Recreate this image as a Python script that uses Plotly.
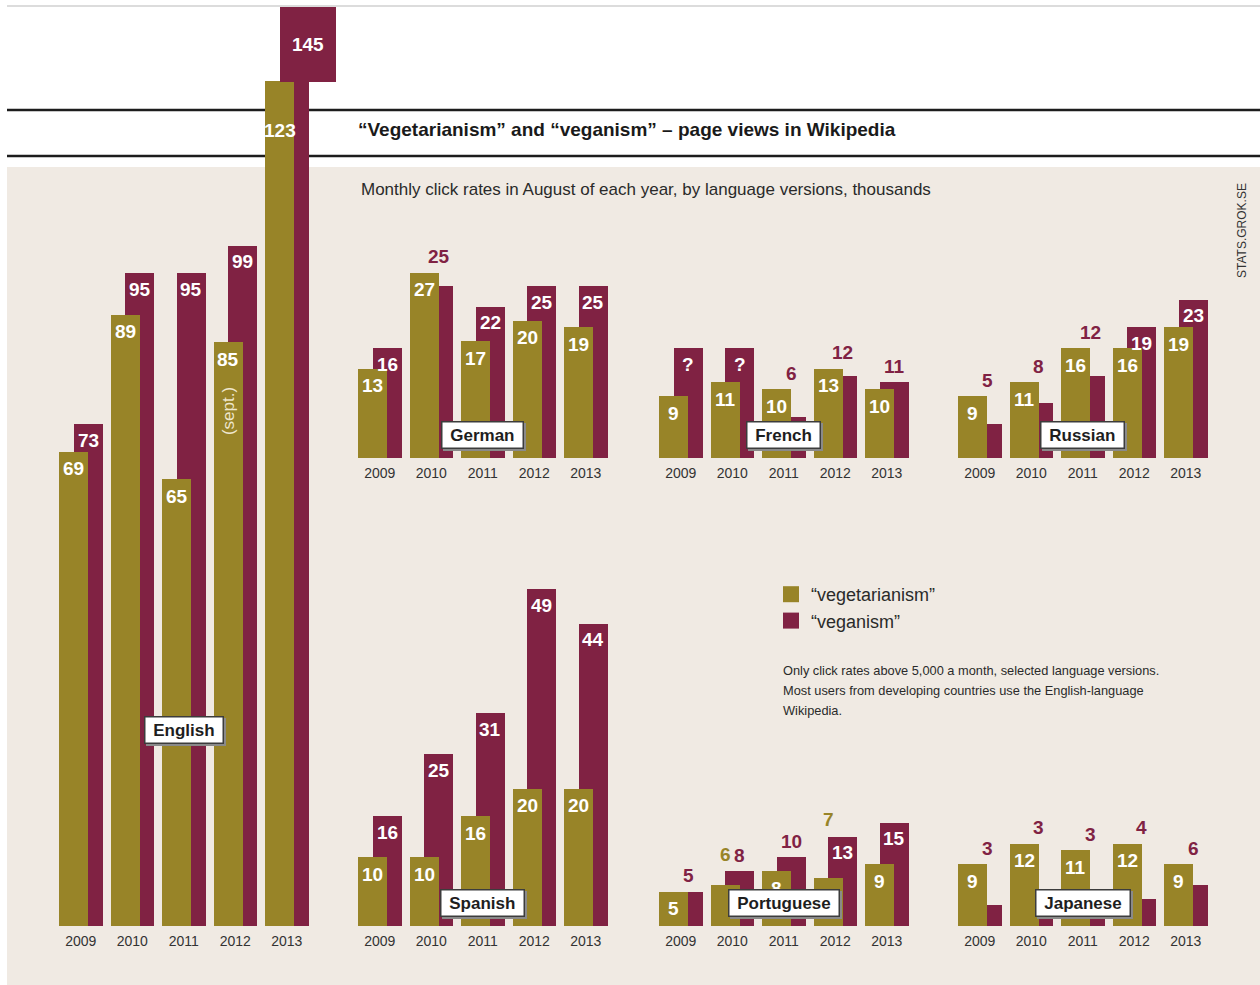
import plotly.graph_objects as go

# ---------------- data (thousands of monthly page views, August) ----------------
years = ["2009", "2010", "2011", "2012", "2013"]

english_veg = [69, 89, 65, 85, 123]
english_vegan = [73, 95, 95, 99, 145]
german_veg = [13, 27, 17, 20, 19]
german_vegan = [16, 25, 22, 25, 25]
french_veg = [9, 11, 10, 13, 10]
french_vegan = [16, 16, 6, 12, 11]          # 2009/2010 unknown, drawn as placeholder bars
french_vegan_labels = ["?", "?", "6", "12", "11"]
russian_veg = [9, 11, 16, 16, 19]
russian_vegan = [5, 8, 12, 19, 23]
spanish_veg = [10, 10, 16, 20, 20]
spanish_vegan = [16, 25, 31, 49, 44]
portuguese_veg = [5, 6, 8, 7, 9]
portuguese_vegan = [5, 8, 10, 13, 15]
japanese_veg = [9, 12, 11, 12, 9]
japanese_vegan = [3, 3, 3, 4, 6]

notes_lines = [
    "Only click rates above 5,000 a month, selected language versions.",
    "Most users from developing countries use the English-language",
    "Wikipedia.",
]

# ---------------- style / layout constants ----------------
W, H = 1260, 985
PXU = 6.87            # pixels per thousand views (same scale for every panel)
SLOT = 51.5           # pixel width of one year slot
OLIVE = "#988428"
MAROON = "#802243"
BEIGE = "#f0eae3"
FONT = "Liberation Sans, Arial, sans-serif"

OFF_V = -0.5 + 4 / SLOT
BW = 29 / SLOT
OFF_M = OFF_V + 14.5 / SLOT
CV = OFF_V + BW / 2    # centre of olive bar relative to category
CM = OFF_M + BW / 2    # centre of maroon bar

panels = [
    dict(name="English", veg=english_veg, vegan=english_vegan, left=59, base=926, top=7, box_dy=196),
    dict(name="German", veg=german_veg, vegan=german_vegan, left=358, base=458, top=240, box_dy=23),
    dict(name="French", veg=french_veg, vegan=french_vegan, vlabels=french_vegan_labels,
         left=659, base=458, top=240, box_dy=23),
    dict(name="Russian", veg=russian_veg, vegan=russian_vegan, left=958, base=458, top=240, box_dy=23),
    dict(name="Spanish", veg=spanish_veg, vegan=spanish_vegan, left=358, base=926, top=560, box_dy=23),
    dict(name="Portuguese", veg=portuguese_veg, vegan=portuguese_vegan, left=659, base=926, top=560,
         box_dy=23, veg_pos=["in", "above", "in", "above", "in"]),
    dict(name="Japanese", veg=japanese_veg, vegan=japanese_vegan, left=958, base=926, top=560, box_dy=23),
]

fig = go.Figure()
layout = {}
annotations = []

for k, p in enumerate(panels, start=1):
    suf = "" if k == 1 else str(k)
    xr, yr = "x" + suf, "y" + suf
    fig.add_trace(go.Bar(x=years, y=p["vegan"], marker=dict(color=MAROON, line_width=0),
                         offset=OFF_M, width=BW, xaxis=xr, yaxis=yr, showlegend=False,
                         name="“veganism”", hoverinfo="skip"))
    fig.add_trace(go.Bar(x=years, y=p["veg"], marker=dict(color=OLIVE, line_width=0),
                         offset=OFF_V, width=BW, xaxis=xr, yaxis=yr, showlegend=False,
                         name="“vegetarianism”", hoverinfo="skip"))
    x0 = (p["left"] - 4) / W
    x1 = (p["left"] - 4 + 5 * SLOT) / W
    ymax = (p["base"] - p["top"]) / PXU
    layout["xaxis" + suf] = dict(domain=[x0, x1], range=[-0.5, 4.5], type="category",
                                 anchor=yr, showgrid=False, zeroline=False, showline=False,
                                 ticks="", fixedrange=True, ticklabelstandoff=5,
                                 tickfont=dict(family=FONT, size=14, color="#333333"))
    layout["yaxis" + suf] = dict(domain=[1 - p["base"] / H, 1 - p["top"] / H], range=[0, ymax],
                                 anchor=xr, visible=False, fixedrange=True)

    vlabels = p.get("vlabels", [str(v) for v in p["vegan"]])
    veg_pos = p.get("veg_pos", ["in"] * 5)
    for i, (a, b) in enumerate(zip(p["veg"], p["vegan"])):
        top = max(a, b)
        # olive ("vegetarianism") label
        if veg_pos[i] == "in":
            shift = -50 if (p["name"] == "English" and i == 4) else -17
            annotations.append(dict(text=f"<b>{a}</b>", x=i + CV, y=a, yshift=shift,
                                    xref=xr, yref=yr, showarrow=False, yanchor="middle",
                                    font=dict(family=FONT, size=19, color="white")))
        else:
            annotations.append(dict(text=f"<b>{a}</b>", x=i + CV, y=top, yshift=17,
                                    xref=xr, yref=yr, showarrow=False, yanchor="middle",
                                    font=dict(family=FONT, size=19, color=OLIVE)))
        # maroon ("veganism") label
        if p["name"] == "English" and i == 4:
            annotations.append(dict(text="<b>145</b>", x=i + OFF_M, y=ymax * 0.9999, xref=xr, yref=yr,
                                    xanchor="left", yanchor="top", showarrow=False, width=56, height=75,
                                    bgcolor=MAROON, borderpad=0, borderwidth=0, valign="middle",
                                    font=dict(family=FONT, size=19, color="white")))
        elif b - a >= 3 or vlabels[i] == "?":
            annotations.append(dict(text=f"<b>{vlabels[i]}</b>", x=i + CM, y=b, yshift=-16,
                                    xref=xr, yref=yr, showarrow=False, yanchor="middle",
                                    font=dict(family=FONT, size=19, color="white")))
        else:
            annotations.append(dict(text=f"<b>{vlabels[i]}</b>", x=i + CM, y=top, yshift=16,
                                    xref=xr, yref=yr, showarrow=False, yanchor="middle",
                                    font=dict(family=FONT, size=19, color=MAROON)))
    if p["name"] == "English":
        annotations.append(dict(text="(sept.)", x=3 + CV, y=p["veg"][3], yshift=-69, textangle=-90,
                                xref=xr, yref=yr, showarrow=False,
                                font=dict(family=FONT, size=17, color="rgba(255,250,235,0.85)")))
    # language name box with shadow
    for sh, bg, fc in [(2, "#8a8a8a", "#8a8a8a"), (0, "white", "#1e1e1e")]:
        annotations.append(dict(text=f"<b>\u00a0{p['name']}\u00a0</b>", x=2, y=0,
                                yshift=p["box_dy"] - sh, xshift=sh, xref=xr, yref=yr,
                                showarrow=False, yanchor="middle", bgcolor=bg,
                                bordercolor="#3c3c3c" if sh == 0 else bg, borderwidth=1.5, borderpad=3,
                                font=dict(family=FONT, size=17, color=fc)))

# legend entries (dummy traces carry the legend swatches)
fig.add_trace(go.Scatter(x=[None], y=[None], mode="markers", name="“vegetarianism”",
                         marker=dict(symbol="square", size=16, color=OLIVE), showlegend=True))
fig.add_trace(go.Scatter(x=[None], y=[None], mode="markers", name="“veganism”",
                         marker=dict(symbol="square", size=16, color=MAROON), showlegend=True))

# texts
annotations += [
    dict(text="<b>“Vegetarianism” and “veganism” – page views in Wikipedia</b>", xref="paper", yref="paper",
         x=356 / W, y=1 - 130 / H, xanchor="left", yanchor="middle", showarrow=False,
         font=dict(family=FONT, size=19, color="#1a1a1a")),
    dict(text="Monthly click rates in August of each year, by language versions, thousands",
         xref="paper", yref="paper", x=359 / W, y=1 - 189 / H, xanchor="left", yanchor="middle",
         showarrow=False, font=dict(family=FONT, size=17, color="#2a2a2a")),
    dict(text="STATS.GROK.SE", xref="paper", yref="paper", x=1242 / W, y=1 - 231 / H, textangle=-90,
         xanchor="center", yanchor="middle",
         showarrow=False, font=dict(family=FONT, size=12, color="#333333")),
]
for j, line in enumerate(notes_lines):
    annotations.append(dict(text=line, xref="paper", yref="paper", x=781 / W, y=1 - (670 + 20 * j) / H,
                            xanchor="left", yanchor="middle", showarrow=False,
                            font=dict(family=FONT, size=12.8, color="#2a2a2a")))

shapes = [
    dict(type="rect", xref="paper", yref="paper", x0=7 / W, x1=1, y0=0, y1=1 - 167 / H,
         fillcolor=BEIGE, line_width=0, layer="below"),
    dict(type="line", xref="paper", yref="paper", x0=7 / W, x1=1, y0=1 - 6 / H, y1=1 - 6 / H,
         line=dict(color="#dcdcdc", width=2), layer="below"),
    dict(type="line", xref="paper", yref="paper", x0=7 / W, x1=1, y0=1 - 110 / H, y1=1 - 110 / H,
         line=dict(color="#1c1c1c", width=2.5), layer="below"),
    dict(type="line", xref="paper", yref="paper", x0=7 / W, x1=1, y0=1 - 156 / H, y1=1 - 156 / H,
         line=dict(color="#1c1c1c", width=2.5), layer="below"),
]

fig.update_layout(
    width=W, height=H, autosize=False,
    margin=dict(l=0, r=0, t=0, b=0),
    paper_bgcolor="white", plot_bgcolor="rgba(0,0,0,0)",
    barmode="overlay", bargap=0,
    showlegend=True,
    legend=dict(x=771 / W, y=1 - 576 / H, xanchor="left", yanchor="top", bgcolor="rgba(0,0,0,0)",
                font=dict(family=FONT, size=18, color="#2a2a2a"), itemsizing="trace",
                tracegroupgap=0),
    annotations=annotations, shapes=shapes,
    **layout,
)

fig.write_html("out.html")
